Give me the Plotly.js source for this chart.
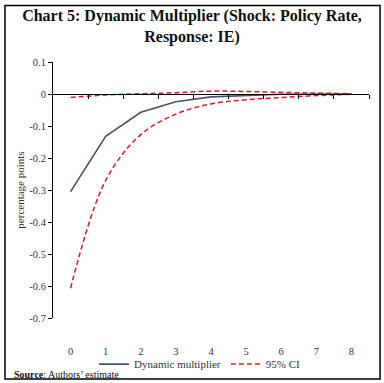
<!DOCTYPE html>
<html><head><meta charset="utf-8">
<script src="https://cdn.plot.ly/plotly-3.0.1.min.js"></script>
<style>html,body{margin:0;padding:0;background:#fff}#chart{width:384px;height:383px}</style>
</head><body><div id="chart"></div>
<script>
const horizons = [0,1,2,3,4,5,6,7,8];
const tickLabels = ['0','1','2','3','4','5','6','7','8'];
const dynamicMultiplier = [-0.305,-0.132,-0.057,-0.024,-0.009,-0.004,-0.001,0.000,0.000];
const ciLower = [-0.607,-0.27,-0.127,-0.063,-0.031,-0.018,-0.011,-0.005,-0.001];
const ciUpper = [-0.011,-0.003,0.001,0.004,0.009,0.008,0.005,0.003,0.001];
const yTicks = [0.1,0,-0.1,-0.2,-0.3,-0.4,-0.5,-0.6,-0.7];
const yTickText = ['0.1','0','-0.1','-0.2','-0.3','-0.4','-0.5','-0.6','-0.7'];
const boundaries = horizons.map(h => h + 0.5);

const serif = '"Liberation Serif", "DejaVu Serif", serif';
const red = '#d01c2a';
const slate = '#44546a';

const traces = [
  {x: horizons, y: dynamicMultiplier, type: 'scatter', mode: 'lines', name: 'Dynamic multiplier',
   line: {color: slate, width: 1.6}},
  {x: horizons, y: ciLower, type: 'scatter', mode: 'lines', name: '95% CI',
   line: {color: red, width: 1.5, dash: '5px,3px', shape: 'spline'}, legendgroup: 'ci'},
  {x: horizons, y: ciUpper, type: 'scatter', mode: 'lines', name: '95% CI', showlegend: false,
   line: {color: red, width: 1.5, dash: '5px,3px', shape: 'spline'}, legendgroup: 'ci'},
  {x: horizons, y: dynamicMultiplier, xaxis: 'x2', type: 'scatter', mode: 'lines', showlegend: false,
   hoverinfo: 'skip', line: {color: 'rgba(0,0,0,0)', width: 0}}
];

const layout = {
  width: 384, height: 383,
  margin: {l: 53, r: 15, t: 62, b: 65, autoexpand: false},
  paper_bgcolor: '#fff', plot_bgcolor: '#fff',
  font: {family: serif, size: 10, color: '#333'},
  title: {text: '<b>Chart 5: Dynamic Multiplier (Shock: Policy Rate,<br>Response: IE)</b>',
          font: {family: serif, size: 16, color: '#111'}, x: 0.5, xanchor: 'center',
          yref: 'container', y: 0.945, yanchor: 'top'},
  showlegend: true,
  legend: {orientation: 'h', x: 0.13, xanchor: 'left', y: -0.18, yanchor: 'middle',
           font: {family: serif, size: 11, color: '#333'}, bgcolor: 'rgba(0,0,0,0)', itemwidth: 30},
  xaxis: {range: [-0.5, 8.5], tickvals: horizons, ticktext: tickLabels, showline: false, showgrid: false,
          zeroline: false, ticks: 'outside', ticklen: 23, tickcolor: 'rgba(0,0,0,0)',
          tickfont: {family: serif, size: 10.5, color: '#333'}},
  xaxis2: {overlaying: 'x', anchor: 'free', position: 0.875, side: 'bottom', range: [-0.5, 8.5],
           tickvals: boundaries, showticklabels: false, showline: true, linecolor: '#000', linewidth: 1,
           ticks: 'outside', ticklen: 4, tickcolor: '#000', tickwidth: 1, showgrid: false, zeroline: false},
  yaxis: {range: [-0.7, 0.1], tickvals: yTicks, ticktext: yTickText, showline: true, linecolor: '#000',
          linewidth: 1, ticks: 'outside', ticklen: 4, tickcolor: '#000', showgrid: false, zeroline: false,
          tickfont: {family: serif, size: 10.5, color: '#333'},
          title: {text: 'percentage points', font: {family: serif, size: 11, color: '#333'}, standoff: 2}},
  annotations: [
    {text: '<b>Source</b>: Authors’ estimate', xref: 'paper', yref: 'paper', x: -0.13, y: -0.222,
     xanchor: 'left', yanchor: 'middle', showarrow: false, font: {family: serif, size: 10, color: '#111'}}
  ],
  shapes: [
    {type: 'rect', xref: 'paper', yref: 'paper', x0: -0.152, x1: 1.035, y0: -0.238, y1: 1.221,
     line: {color: '#000', width: 1.5}, fillcolor: 'rgba(0,0,0,0)', layer: 'below'}
  ]
};

Plotly.newPlot('chart', traces, layout, {displayModeBar: false, staticPlot: true});
</script></body></html>
